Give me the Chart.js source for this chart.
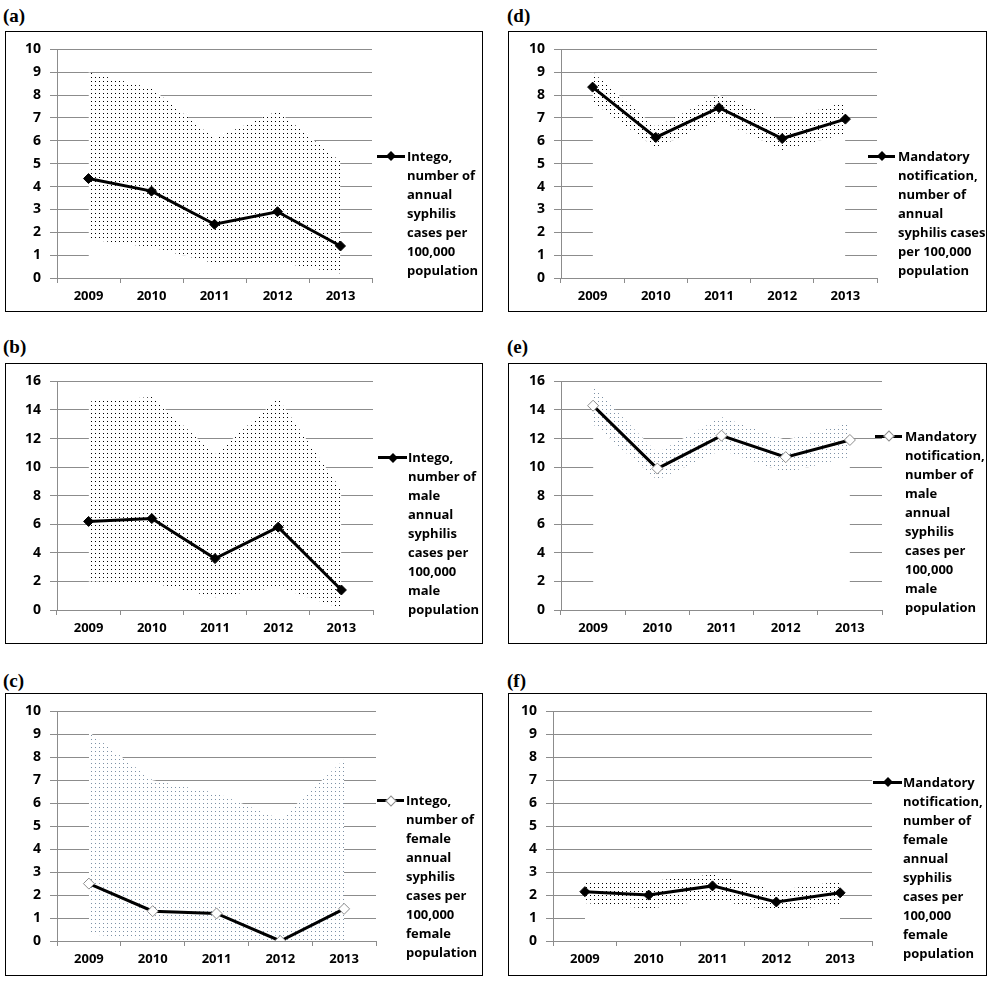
<!DOCTYPE html>
<html>
<head>
<meta charset="utf-8">
<script src="https://cdn.jsdelivr.net/npm/chart.js@4.4.0/dist/chart.umd.min.js"></script>
<style>
  body { margin: 0; background: #fff; width: 995px; height: 985px; position: relative; overflow: hidden; }
  .tag { position: absolute; font: bold 19px "Liberation Serif", serif; line-height: 20px; color: #000; }
  .box { position: absolute; border: 1px solid #000; box-sizing: border-box; background: #fff; }
  .box canvas { position: absolute; left: 0; top: 0; }
  .legend { position: absolute; font: bold 13px "Open Sans", sans-serif; line-height: 19px; color: #000; white-space: nowrap; }
  .key { position: absolute; height: 3px; background: #000; }
  .key i { position: absolute; width: 7px; height: 7px; left: 50%; top: 50%; transform: translate(-50%, -50%) rotate(45deg); background: #000; }
  .key.hollow i { width: 8px; height: 8px; background: #fff; border: 1px solid #8c8c8c; box-sizing: border-box; }
</style>
</head>
<body>
<script>
// Years on the category axis
const YEARS = ["2009", "2010", "2011", "2012", "2013"];

// Y tick labels
const TICKS_10 = [0, 1, 2, 3, 4, 5, 6, 7, 8, 9, 10];
const TICKS_16 = [0, 2, 4, 6, 8, 10, 12, 14, 16];

// (a) Intego, all
const INTEGO_ALL = [4.35, 3.8, 2.35, 2.9, 1.4];
const INTEGO_ALL_HI = [9.0, 8.3, 6.1, 7.3, 5.1];
const INTEGO_ALL_LO = [1.7, 1.35, 0.65, 0.7, 0.2];

// (b) Intego, male
const INTEGO_MALE = [6.2, 6.4, 3.6, 5.8, 1.4];
const INTEGO_MALE_HI = [14.6, 14.9, 10.9, 14.8, 8.4];
const INTEGO_MALE_LO = [2.0, 1.9, 0.9, 1.6, 0.1];

// (c) Intego, female
const INTEGO_FEMALE = [2.5, 1.3, 1.2, 0, 1.4];
const INTEGO_FEMALE_HI = [9.1, 7.0, 6.45, 5.3, 7.9];
const INTEGO_FEMALE_LO = [0.3, 0, 0, 0, 0];

// (d) Mandatory notification, all
const MANDATORY_ALL = [8.35, 6.15, 7.45, 6.1, 6.95];
const MANDATORY_ALL_HI = [9.0, 6.6, 8.0, 6.9, 7.7];
const MANDATORY_ALL_LO = [7.7, 5.7, 6.9, 5.6, 6.3];

// (e) Mandatory notification, male
const MANDATORY_MALE = [14.3, 9.9, 12.2, 10.7, 11.9];
const MANDATORY_MALE_HI = [15.6, 11.0, 13.5, 11.9, 13.1];
const MANDATORY_MALE_LO = [13.0, 9.1, 11.2, 9.6, 10.7];

// (f) Mandatory notification, female
const MANDATORY_FEMALE = [2.15, 2.0, 2.4, 1.7, 2.1];
const MANDATORY_FEMALE_HI = [2.6, 2.6, 2.9, 2.2, 2.6];
const MANDATORY_FEMALE_LO = [1.65, 1.4, 1.8, 1.3, 1.6];

// Legend texts
const LEGEND_A = ["Intego,", "number of", "annual", "syphilis", "cases per", "100,000", "population"];
const LEGEND_B = ["Intego,", "number of", "male", "annual", "syphilis", "cases per", "100,000", "male", "population"];
const LEGEND_C = ["Intego,", "number of", "female", "annual", "syphilis", "cases per", "100,000", "female", "population"];
const LEGEND_D = ["Mandatory", "notification,", "number of", "annual", "syphilis cases", "per 100,000", "population"];
const LEGEND_E = ["Mandatory", "notification,", "number of", "male", "annual", "syphilis", "cases per", "100,000", "male", "population"];
const LEGEND_F = ["Mandatory", "notification,", "number of", "female", "annual", "syphilis", "cases per", "100,000", "female", "population"];

// Layout (page pixels): box = [x, y, w, h], plot = [left, top, right, bottom]
const PANELS = [
  { tag: "(a)", tagPos: [3, 6], box: [5, 31, 478, 281], plot: [57, 46, 372, 278], ticks: TICKS_10,
    rate: INTEGO_ALL, hi: INTEGO_ALL_HI, lo: INTEGO_ALL_LO, legend: LEGEND_A, key: [377, 405, 156], textX: 407, hollow: false },
  { tag: "(b)", tagPos: [3, 337], box: [5, 363, 478, 281], plot: [57, 376.7, 373, 610], ticks: TICKS_16,
    rate: INTEGO_MALE, hi: INTEGO_MALE_HI, lo: INTEGO_MALE_LO, legend: LEGEND_B, key: [378, 407, 457.7], textX: 408, hollow: false },
  { tag: "(c)", tagPos: [3, 671], box: [5, 693, 478, 283], plot: [57, 709.3, 376, 941], ticks: TICKS_10,
    rate: INTEGO_FEMALE, hi: INTEGO_FEMALE_HI, lo: INTEGO_FEMALE_LO, legend: LEGEND_C, key: [377, 404, 800.7], textX: 406, hollow: true },
  { tag: "(d)", tagPos: [507, 6], box: [508, 31, 479, 281], plot: [561, 46, 877, 278], ticks: TICKS_10,
    rate: MANDATORY_ALL, hi: MANDATORY_ALL_HI, lo: MANDATORY_ALL_LO, legend: LEGEND_D, key: [868, 895, 156], textX: 898, hollow: false },
  { tag: "(e)", tagPos: [507, 337], box: [508, 363, 479, 281], plot: [561, 376.7, 882, 610], ticks: TICKS_16,
    rate: MANDATORY_MALE, hi: MANDATORY_MALE_HI, lo: MANDATORY_MALE_LO, legend: LEGEND_E, key: [875, 902, 436], textX: 905, hollow: true },
  { tag: "(f)", tagPos: [507, 671], box: [508, 693, 479, 283], plot: [553, 709.3, 872, 941], ticks: TICKS_10,
    rate: MANDATORY_FEMALE, hi: MANDATORY_FEMALE_HI, lo: MANDATORY_FEMALE_LO, legend: LEGEND_F, key: [873, 902, 782.3], textX: 903, hollow: false },
];

// Dotted fill used for the confidence bands
function dotPattern(color) {
  const c = document.createElement("canvas");
  c.width = 4;
  c.height = 4;
  const g = c.getContext("2d");
  g.fillStyle = "#fff";
  g.fillRect(0, 0, 4, 4);
  g.fillStyle = color;
  g.fillRect(1, 1, 1, 1);
  return g.createPattern(c, "repeat");
}

function el(tag, cls, parent) {
  const e = document.createElement(tag);
  if (cls) e.className = cls;
  parent.appendChild(e);
  return e;
}

function buildPanel(p) {
  const body = document.body;

  const tag = el("div", "tag", body);
  tag.textContent = p.tag;
  tag.style.left = p.tagPos[0] + "px";
  tag.style.top = p.tagPos[1] + "px";

  const box = el("div", "box", body);
  box.style.left = p.box[0] + "px";
  box.style.top = p.box[1] + "px";
  box.style.width = p.box[2] + "px";
  box.style.height = p.box[3] + "px";

  const innerL = p.box[0] + 1;
  const innerT = p.box[1] + 1;
  const cw = p.box[2] - 2;
  const ch = p.box[3] - 2;

  const canvas = el("canvas", null, box);
  canvas.width = cw;
  canvas.height = ch;

  const yW = p.plot[0] - innerL;
  const xH = innerT + ch - p.plot[3];
  const padTop = p.plot[1] - innerT;
  const padRight = innerL + cw - p.plot[2];

  const t = p.ticks;
  const tickFont = { family: "Open Sans", weight: "bold", size: 14 };
  const xFont = { family: "Open Sans", weight: "bold", size: 13 };

  new Chart(canvas, {
    type: "line",
    data: {
      labels: YEARS,
      datasets: [
        {
          data: p.rate,
          borderColor: "#000",
          borderWidth: 3,
          tension: 0,
          fill: false,
          pointStyle: "rectRot",
          pointRadius: p.hollow ? 5.5 : 5,
          pointBackgroundColor: p.hollow ? "#fff" : "#000",
          pointBorderColor: p.hollow ? "#8c8c8c" : "#000",
          pointBorderWidth: 1,
        },
        {
          data: p.hi,
          borderWidth: 0,
          borderColor: "rgba(0,0,0,0)",
          pointRadius: 0,
          tension: 0,
          fill: 2,
          backgroundColor: dotPattern(p.hollow ? "#7d91a5" : "#000"),
        },
        {
          data: p.lo,
          borderWidth: 0,
          borderColor: "rgba(0,0,0,0)",
          pointRadius: 0,
          tension: 0,
          fill: "origin",
          backgroundColor: "#fff",
        },
      ],
    },
    options: {
      responsive: false,
      animation: false,
      devicePixelRatio: 1,
      layout: { padding: { left: 0, top: padTop, right: padRight, bottom: 0 } },
      plugins: { legend: { display: false }, tooltip: { enabled: false } },
      scales: {
        x: {
          offset: true,
          grid: { offset: true, drawOnChartArea: false, tickLength: 5, color: "#8c8c8c" },
          border: { color: "#8c8c8c" },
          ticks: { color: "#000", font: xFont, padding: 5, maxRotation: 0 },
          afterFit: (s) => { s.height = xH; },
        },
        y: {
          min: t[0],
          max: t[t.length - 1],
          ticks: { stepSize: t[1] - t[0], color: "#000", font: tickFont, padding: 9 },
          grid: { color: "#8c8c8c", tickLength: 7 },
          border: { color: "#8c8c8c" },
          afterFit: (s) => { s.width = yW; },
        },
      },
    },
  });

  // Legend: line sample with marker, then wrapped text
  const key = el("div", "key" + (p.hollow ? " hollow" : ""), body);
  key.style.left = p.key[0] + "px";
  key.style.width = (p.key[1] - p.key[0]) + "px";
  key.style.top = (p.key[2] - 1.5) + "px";
  el("i", null, key);

  const legend = el("div", "legend", body);
  legend.style.left = p.textX + "px";
  legend.style.top = (p.key[2] - 9.5) + "px";
  legend.innerHTML = p.legend.join("<br>");
}

PANELS.forEach(buildPanel);
</script>
</body>
</html>
